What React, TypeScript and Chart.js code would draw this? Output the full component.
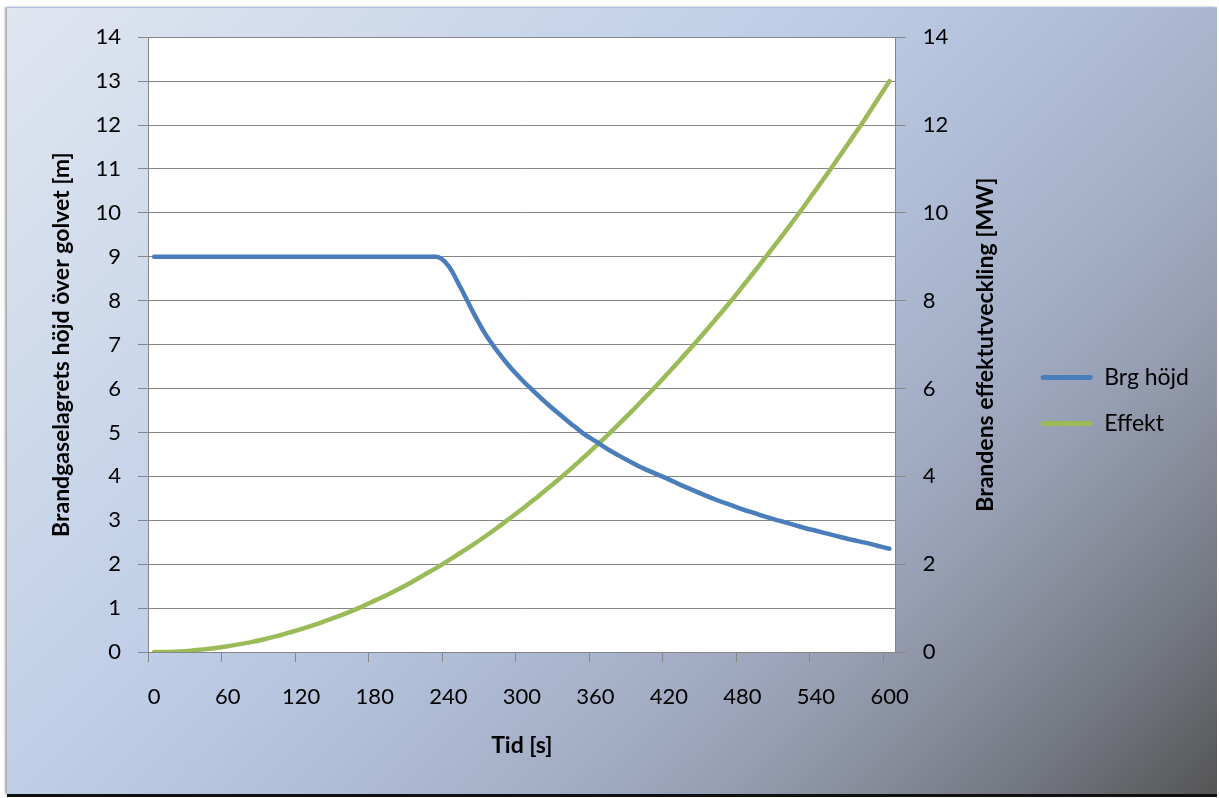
import React, { useEffect, useRef } from 'react';
import { Chart, registerables } from 'chart.js';

Chart.register(...registerables);

// Time in seconds (one category every 10 s)
const timeLabels = [
  '0', '10', '20', '30', '40', '50', '60', '70', '80', '90',
  '100', '110', '120', '130', '140', '150', '160', '170', '180', '190',
  '200', '210', '220', '230', '240', '250', '260', '270', '280', '290',
  '300', '310', '320', '330', '340', '350', '360', '370', '380', '390',
  '400', '410', '420', '430', '440', '450', '460', '470', '480', '490',
  '500', '510', '520', '530', '540', '550', '560', '570', '580', '590',
  '600',
];

// Brandgaselagrets höjd [m]
const brgHojd = [
  9, 9, 9, 9, 9, 9, 9, 9, 9, 9,
  9, 9, 9, 9, 9, 9, 9, 9, 9, 9,
  9, 9, 9, 9, 8.8, 8.3, 7.75, 7.25, 6.85, 6.5,
  6.2, 5.93, 5.67, 5.43, 5.2, 4.98, 4.8, 4.62, 4.46, 4.31,
  4.17, 4.05, 3.93, 3.8, 3.68, 3.56, 3.45, 3.35, 3.25, 3.16,
  3.07, 2.99, 2.91, 2.83, 2.76, 2.69, 2.62, 2.55, 2.49, 2.42,
  2.35,
];

// Brandens effektutveckling [MW]
const effekt = [
  0, 0.0, 0.01, 0.03, 0.06, 0.09, 0.13, 0.18, 0.23, 0.29,
  0.36, 0.44, 0.52, 0.61, 0.71, 0.81, 0.92, 1.04, 1.17, 1.3,
  1.44, 1.59, 1.75, 1.91, 2.08, 2.26, 2.44, 2.63, 2.83, 3.04,
  3.25, 3.47, 3.7, 3.93, 4.17, 4.42, 4.68, 4.94, 5.21, 5.49,
  5.78, 6.07, 6.37, 6.68, 6.99, 7.31, 7.64, 7.97, 8.32, 8.67,
  9.03, 9.39, 9.76, 10.14, 10.53, 10.92, 11.32, 11.73, 12.14, 12.57,
  13.0,
];

const seriesNames = ['Brg höjd', 'Effekt'];
const xTitle = 'Tid [s]';
const leftTitle = 'Brandgaselagrets höjd över golvet [m]';
const rightTitle = 'Brandens effektutveckling [MW]';
const xLabelEvery = 6;

const FONT = 'Lato, "Noto Sans", sans-serif';
const GRID = '#868686';
const TICK_SIZE = 22;
const TITLE_SIZE = 23;

const plotBg = {
  id: 'plotBg',
  beforeDraw(chart: any) {
    const { ctx, chartArea } = chart;
    ctx.save();
    ctx.fillStyle = '#ffffff';
    ctx.fillRect(chartArea.left, chartArea.top, chartArea.right - chartArea.left, chartArea.bottom - chartArea.top);
    ctx.restore();
  },
};

const rightTitlePlugin = {
  id: 'rightTitle',
  afterDraw(chart: any) {
    const s = chart.scales.y1;
    const { ctx, chartArea } = chart;
    ctx.save();
    ctx.translate(s.left + 90, (chartArea.top + chartArea.bottom) / 2);
    ctx.rotate(-Math.PI / 2);
    ctx.font = `bold ${TITLE_SIZE}px ${FONT}`;
    ctx.fillStyle = '#000';
    ctx.textAlign = 'center';
    ctx.textBaseline = 'middle';
    ctx.fillText(rightTitle, 0, 0);
    ctx.restore();
  },
};

export default function App() {
  const ref = useRef<HTMLCanvasElement>(null);

  useEffect(() => {
    Chart.defaults.font.family = FONT;
    Chart.defaults.color = '#000';
    const chart = new Chart(ref.current as HTMLCanvasElement, {
      type: 'line',
      data: {
        labels: timeLabels,
        datasets: [
          {
            label: seriesNames[0],
            data: brgHojd,
            borderColor: '#4a7ebb',
            backgroundColor: '#4a7ebb',
            borderWidth: 4.5,
            pointRadius: 0,
            cubicInterpolationMode: 'monotone',
            yAxisID: 'y',
            borderCapStyle: 'round',
            borderJoinStyle: 'round',
          },
          {
            label: seriesNames[1],
            data: effekt,
            borderColor: '#9bbb59',
            backgroundColor: '#9bbb59',
            borderWidth: 4.5,
            pointRadius: 0,
            cubicInterpolationMode: 'monotone',
            yAxisID: 'y1',
            borderCapStyle: 'round',
            borderJoinStyle: 'round',
          },
        ],
      },
      options: {
        animation: false,
        responsive: true,
        maintainAspectRatio: false,
        layout: { padding: { top: 30, bottom: 30, left: 0, right: 18 } },
        plugins: {
          tooltip: { enabled: false },
          legend: {
            position: 'right',
            labels: {
              boxWidth: 52,
              boxHeight: 5,
              padding: 23,
              font: { size: TITLE_SIZE },
              color: '#000',
              generateLabels: (c: any) => {
                const items = Chart.defaults.plugins.legend.labels.generateLabels(c);
                return items.map((it: any) => ({ ...it, lineWidth: 0, borderRadius: 2.5 }));
              },
            },
          },
        },
        scales: {
          x: {
            type: 'category',
            offset: true,
            grid: {
              offset: true,
              drawOnChartArea: false,
              drawTicks: true,
              tickLength: 10,
              color: GRID,
              tickColor: (ctx: any) => (typeof ctx.index === 'number' && ctx.index % xLabelEvery === 0 ? GRID : 'rgba(0,0,0,0)'),
            },
            border: { display: true, color: GRID, width: 1 },
            ticks: {
              autoSkip: false,
              maxRotation: 0,
              padding: 22,
              font: { size: TICK_SIZE },
              color: '#000',
              callback: (_v: any, i: number) => (i % xLabelEvery === 0 ? timeLabels[i] : ''),
            },
            title: {
              display: true,
              text: xTitle,
              font: { size: TITLE_SIZE, weight: 'bold' },
              color: '#000',
              padding: { top: 0, bottom: 5 },
            },
            afterFit: (s: any) => { s.height = 112; },
          },
          y: {
            position: 'left',
            min: 0,
            max: 14,
            ticks: { stepSize: 1, padding: 17, font: { size: TICK_SIZE }, color: '#000' },
            grid: { color: GRID, tickLength: 10, drawTicks: true },
            border: { display: true, color: GRID, width: 1 },
            title: {
              display: true,
              text: leftTitle,
              font: { size: TITLE_SIZE, weight: 'bold' },
              color: '#000',
              padding: { top: 41, bottom: 0 },
            },
            afterFit: (s: any) => { s.width = 141; },
          },
          y1: {
            position: 'right',
            min: 0,
            max: 14,
            ticks: { stepSize: 2, padding: 17, font: { size: TICK_SIZE }, color: '#000' },
            grid: { drawOnChartArea: false, color: GRID, tickLength: 10, drawTicks: true },
            border: { display: true, color: GRID, width: 1 },
            afterFit: (s: any) => { s.width = 122; },
          },
        },
      },
      plugins: [plotBg, rightTitlePlugin],
    } as any);
    return () => chart.destroy();
  }, []);

  return (
    <>
      <style>{'body{margin:0;}'}</style>
      <div
        style={{
          position: 'absolute',
          left: 7,
          top: 7,
          width: 1210,
          height: 787,
          background:
            'linear-gradient(135deg, #e0e6f0 0%, #cfdaeb 20%, #bfcee7 40%, #b0bdd6 55%, #a5b0c8 65%, #969eb2 75%, #848a97 83%, #727680 90%, #555555 100%)',
          boxShadow: 'inset 0 1px 0 #a8bde0, -2px 0 2px rgba(0,0,0,0.35), 0 3px 0 #111',
        }}
      >
        <canvas ref={ref} />
      </div>
    </>
  );
}
